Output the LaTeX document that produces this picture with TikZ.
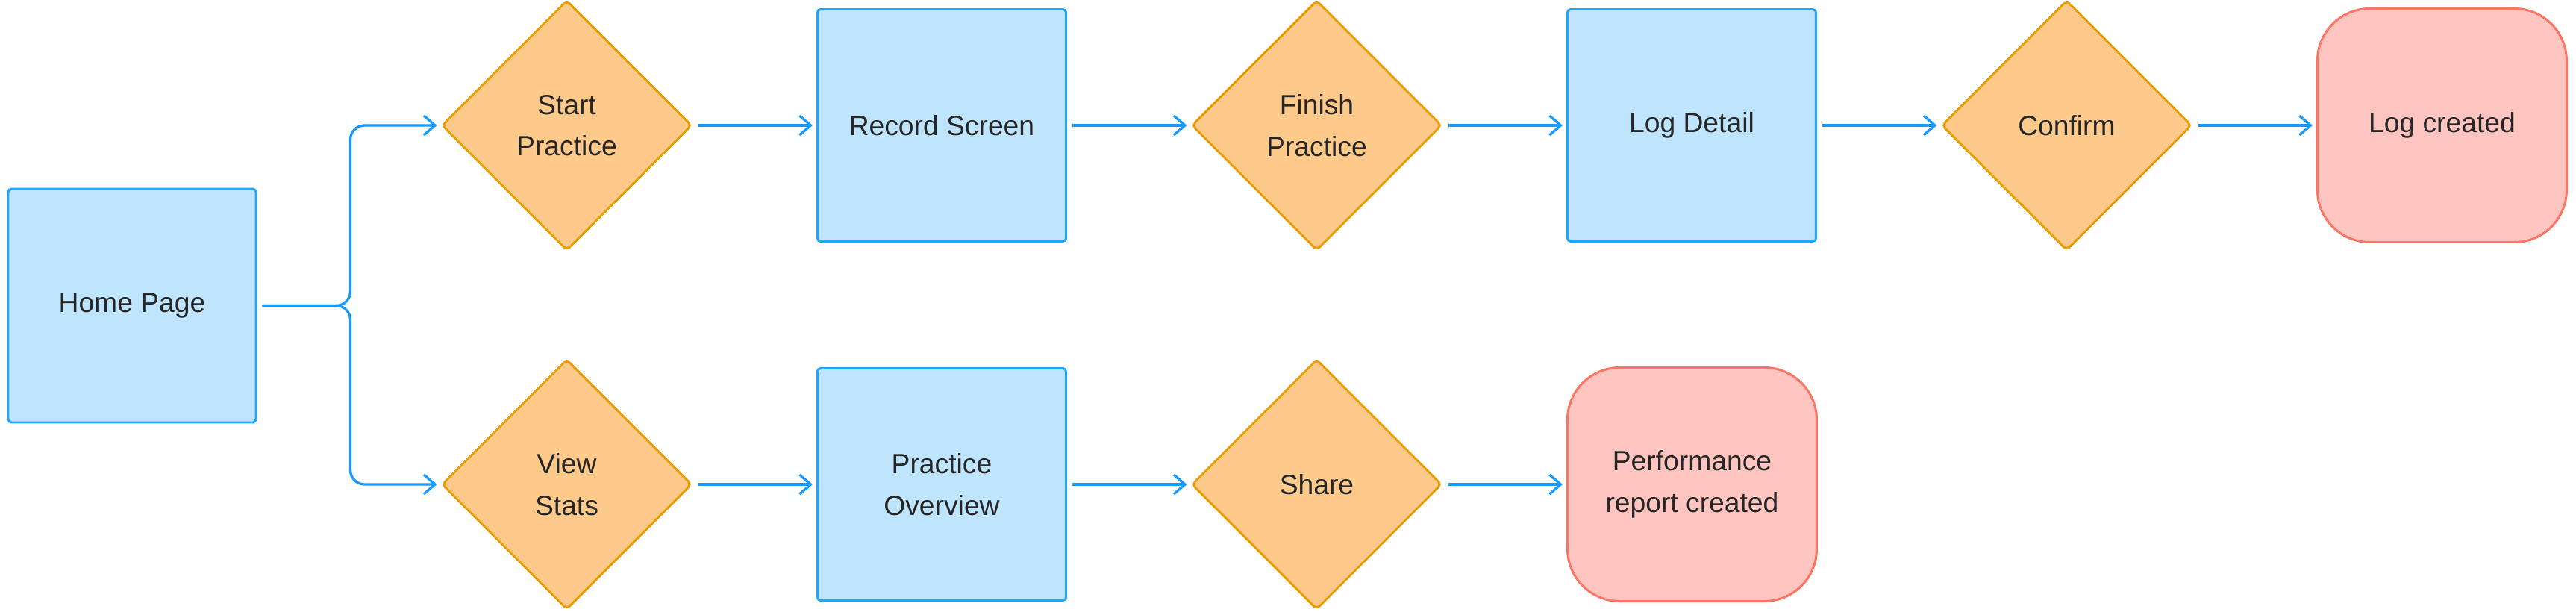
\documentclass[tikz,border=0pt]{standalone}
\usepackage{fontspec}
\setmainfont{Liberation Sans}
\usetikzlibrary{positioning}
\usetikzlibrary{shapes.geometric}
\usetikzlibrary{arrows.meta}

\definecolor{screenfill}{HTML}{BFE4FD}
\definecolor{screenline}{HTML}{1EA7FD}
\definecolor{choicefill}{HTML}{FDCA8B}
\definecolor{choiceline}{HTML}{E99C00}
\definecolor{endfill}{HTML}{FEC5C0}
\definecolor{endline}{HTML}{FA7564}
\definecolor{flowblue}{HTML}{1A9BFC}
\definecolor{labeltext}{HTML}{262626}

\begin{document}
\begin{tikzpicture}[
        % Standard style for the app screens
        >={Straight Barb[length=1.5mm,width=2.6mm]},
        node distance=1.655cm,
        every node/.style={
            font=\fontsize{10.6pt}{15.8pt}\selectfont,
            text=labeltext,
            align=center
        },
        screen/.style={
            draw=screenline,
            fill=screenfill,
            rectangle,
            rounded corners=1.2pt,
            line width=0.85pt,
            minimum width=3.33cm,
            minimum height=3.11cm
        },
        choice/.style={
            draw=choiceline,
            fill=choicefill,
            diamond,
            rounded corners=1.5pt,
            line width=0.85pt,
            inner sep=0pt,
            minimum width=3.35cm,
            minimum height=3.35cm
        },
        outcome/.style={
            draw=endline,
            fill=endfill,
            rectangle,
            rounded corners=0.7cm,
            line width=0.85pt,
            minimum width=3.34cm,
            minimum height=3.13cm
        },
        flow/.style={
            ->, draw=flowblue, line width=0.95pt,
            rounded corners=0.19cm,
            shorten <=0.07cm, shorten >=0.05cm
        }
        ]

        \useasboundingbox (0,0) rectangle (34.52,-8.2);

        \node [screen, minimum width=3.32cm, minimum height=3.13cm] (home_page) at (1.77,-4.095) {Home Page};

        % upper branch: practising
        \node [choice] (start_practice) at (7.595,-1.68) {Start\\Practice};
        \node [screen, right=of start_practice] (record_screen) {Record Screen};
        \node [choice, right=of record_screen] (finish_practice) {Finish\\Practice};
        \node [screen, right=of finish_practice] (log_detail) {Log Detail};
        \node [choice, right=of log_detail] (confirm) {Confirm};
        \node [outcome, right=of confirm] (log_created) {Log created};

        % lower branch: stats
        \node [choice] (view_stats) at (7.595,-6.49) {View\\Stats};
        \node [screen, right=of view_stats] (practice_overview) {Practice\\Overview};
        \node [choice, right=of practice_overview] (share) {Share};
        \node [outcome, right=of share] (perf_report) {Performance\\report created};

        \coordinate (fork) at ([xshift=1.25cm]home_page.east);
        \draw[flow] (home_page.east) -- (fork) |- (start_practice.west);
        \draw[flow] (home_page.east) -- (fork) |- (view_stats.west);

        \draw[flow] (start_practice) -- (record_screen);
        \draw[flow] (record_screen) -- (finish_practice);
        \draw[flow] (finish_practice) -- (log_detail);
        \draw[flow] (log_detail) -- (confirm);
        \draw[flow] (confirm) -- (log_created);

        \draw[flow] (view_stats) -- (practice_overview);
        \draw[flow] (practice_overview) -- (share);
        \draw[flow] (share) -- (perf_report);
\end{tikzpicture}
\end{document}
